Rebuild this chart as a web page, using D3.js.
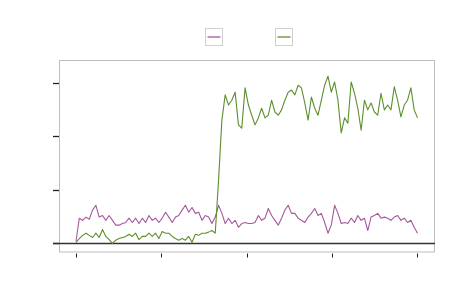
<!DOCTYPE html>
<html><head><meta charset="utf-8">
<script src="https://cdn.jsdelivr.net/npm/d3@7"></script>
<style>html,body{margin:0;padding:0;background:#fff;}svg{display:block;}</style>
</head><body>
<svg id="chart" width="450" height="300"></svg>
<script>
const seriesNames = ["", ""];
const seriesColors = ["#a6579e", "#5c8f2c"];
const xTicks = [0, 100, 200, 300, 400];
const yTicks = [0, 10, 20, 30];
const purpleValues = [0.4,4.7,4.3,4.9,4.5,6.2,7.1,4.9,5.2,4.3,
 5.2,4.3,3.4,3.4,3.7,3.9,4.7,3.9,4.7,3.7,
 4.7,3.9,5.2,4.3,4.7,3.9,4.7,5.8,4.9,3.9,
 4.9,5.2,6.2,7.1,5.8,6.7,5.6,5.8,4.3,5.2,
 4.9,3.7,4.9,7.1,5.6,3.7,4.7,3.7,4.3,3.0,
 3.7,3.9,3.7,3.7,3.9,5.2,4.3,4.7,6.5,5.2,
 4.3,3.4,4.7,6.2,7.1,5.6,5.6,4.7,4.3,3.9,
 4.9,5.6,6.5,5.2,5.6,3.9,1.9,3.4,7.1,5.6,
 3.7,3.9,3.7,4.7,3.9,5.2,4.3,4.7,2.4,4.9,
 5.2,5.6,4.7,4.9,4.7,4.3,4.9,5.2,4.3,4.7,
 3.9,4.3,3.0,1.9];
const greenValues = [0.2,0.9,1.5,1.9,1.5,1.1,1.9,1.1,2.6,1.3,
 0.7,0.0,0.6,0.9,1.1,1.3,1.7,1.3,1.9,0.7,
 1.3,1.3,1.9,1.3,1.9,0.9,2.2,1.9,1.9,1.3,
 0.9,0.6,0.9,0.6,1.3,0.2,1.7,1.5,1.9,1.9,
 2.1,2.4,1.9,11.8,23.0,27.7,25.8,26.7,28.2,22.1,
 21.5,29.0,25.8,23.9,22.1,23.4,25.2,23.4,23.9,26.7,
 24.5,23.9,24.9,26.7,28.2,28.6,27.7,29.5,29.0,26.2,
 23.0,27.3,25.2,23.9,26.7,29.5,31.2,28.2,30.1,26.7,
 20.6,23.4,22.4,30.1,28.0,25.2,21.1,26.7,24.9,26.2,
 24.5,23.9,28.0,24.9,25.8,24.9,29.2,26.7,23.6,25.8,
 26.7,29.0,24.9,23.4];

const N = purpleValues.length;
const times = d3.range(N).map(i => i * 400 / (N - 1));
const series = [purpleValues, greenValues];

const svg = d3.select("#chart");
const plot = {left: 59, right: 435, top: 60, bottom: 252.5};
const x = d3.scaleLinear().domain([-19.9, 420.5]).range([plot.left, plot.right]);
const y = d3.scaleLinear().domain([-1.7, 34.2]).range([plot.bottom, plot.top]);

// frame
svg.append("rect")
  .attr("x", plot.left + 0.5).attr("y", plot.top + 0.5)
  .attr("width", plot.right - plot.left - 1).attr("height", plot.bottom - plot.top - 1)
  .attr("fill", "none").attr("stroke", "#bdbdbd").attr("stroke-width", 1);

// y ticks
svg.append("g").selectAll("line").data(yTicks).join("line")
  .attr("x1", 53).attr("x2", plot.left)
  .attr("y1", d => Math.round(y(d)) + 0.5).attr("y2", d => Math.round(y(d)) + 0.5)
  .attr("stroke", "#222").attr("stroke-width", 1.3);

// x ticks
svg.append("g").selectAll("line").data(xTicks).join("line")
  .attr("x1", d => Math.round(x(d)) + 0.5).attr("x2", d => Math.round(x(d)) + 0.5)
  .attr("y1", plot.bottom + 1).attr("y2", plot.bottom + 5)
  .attr("stroke", "#222").attr("stroke-width", 1);

// zero line
svg.append("line")
  .attr("x1", 53).attr("x2", plot.right)
  .attr("y1", Math.round(y(0)) + 0.5).attr("y2", Math.round(y(0)) + 0.5)
  .attr("stroke", "#333").attr("stroke-width", 1.4);

const line = d3.line().x((d, i) => x(times[i])).y(d => y(d));
series.forEach((vals, k) => {
  svg.append("path").datum(vals)
    .attr("d", line)
    .attr("fill", "none")
    .attr("stroke", seriesColors[k])
    .attr("stroke-width", 1.1)
    .attr("stroke-linejoin", "round");
});

// legend
const legendX = [205, 275];
seriesNames.forEach((name, k) => {
  const g = svg.append("g").attr("transform", `translate(${legendX[k]},28)`);
  g.append("rect").attr("x", 0.5).attr("y", 0.5).attr("width", 17).attr("height", 17)
    .attr("fill", "#fff").attr("stroke", "#d0d0d0").attr("stroke-width", 1);
  g.append("line").attr("x1", 2.5).attr("x2", 15.5).attr("y1", 9).attr("y2", 9)
    .attr("stroke", seriesColors[k]).attr("stroke-width", 1.3);
  g.append("text").attr("x", 22).attr("y", 13).attr("font-family", "DejaVu Sans")
    .attr("font-size", 10).text(name);
});
</script>
</body></html>
